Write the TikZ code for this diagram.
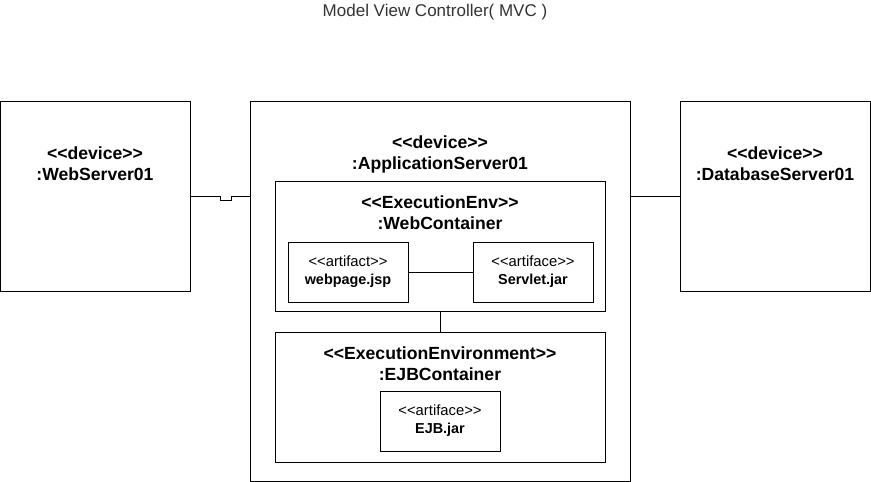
\documentclass[tikz,border=0pt]{standalone}
\usepackage{fontspec}
\setmainfont{Liberation Sans}[Ligatures=TeXOff]
\begin{document}
\begin{tikzpicture}[x=1pt,y=-1pt,
		box/.style={draw, line width=1pt, inner sep=0pt, outer sep=0pt},
		big/.style={font=\fontsize{17.6}{21}\selectfont\bfseries, align=center, inner sep=0pt},
		small/.style={font=\fontsize{14.8}{18}\selectfont, align=center, inner sep=0pt}]
			\useasboundingbox (0,0) rectangle (871,482);

			% Title
			\node[font=\fontsize{17}{21}\selectfont, text=black!80] (title) at (435,12) {Model View Controller( MVC )};

			% Devices
			\node[box, minimum width=190pt, minimum height=190pt] (web) at (95,196) {};
			\node[box, minimum width=380pt, minimum height=380pt] (app) at (440,291) {};
			\node[box, minimum width=190pt, minimum height=190pt] (db) at (775,196) {};

			% Containers
			\node[box, minimum width=330pt, minimum height=130pt] (webc) at (440,246) {};
			\node[box, minimum width=330pt, minimum height=130pt] (ejbc) at (440,397) {};

			% Artifacts
			\node[box, small, minimum width=120pt, minimum height=60pt] (jsp) at (348,272) {<<artifact>>\\\textbf{\fontsize{14.4}{18}\selectfont webpage.jsp}};
			\node[box, small, minimum width=120pt, minimum height=60pt] (servlet) at (533,272) {<<artiface>>\\\textbf{\fontsize{14.4}{18}\selectfont Servlet.jar}};
			\node[box, small, minimum width=120pt, minimum height=60pt] (ejb) at (440,421) {<<artiface>>\\\textbf{\fontsize{14.4}{18}\selectfont EJB.jar}};

			% Labels
			\node[big] (webl) at (95,164) {<<device>>\\:WebServer01};
			\node[big] (appl) at (440,154) {<<device>>\\:ApplicationServer01};
			\node[big] (dbl) at (775,164) {<<device>>\\:DatabaseServer01};
			\node[big] (webcl) at (440,213) {<<ExecutionEnv>>\\:WebContainer};
			\node[big] (ejbcl) at (440,364) {<<ExecutionEnvironment>>\\:EJBContainer};

			% Lines between devices
			\draw[line width=1pt] (web.east) -- ++(30,0) -- ++(0,4.5) -- ++(11,0) -- ++(0,-4.5) -- (web.east -| app.west);
			\draw[line width=1pt] (db.west) -- (db.west -| app.east);

			% Lines inside
			\draw[line width=1pt] (jsp) -- (servlet);
			\draw[line width=1pt] (webc) -- (ejbc);

		\end{tikzpicture}
\end{document}
